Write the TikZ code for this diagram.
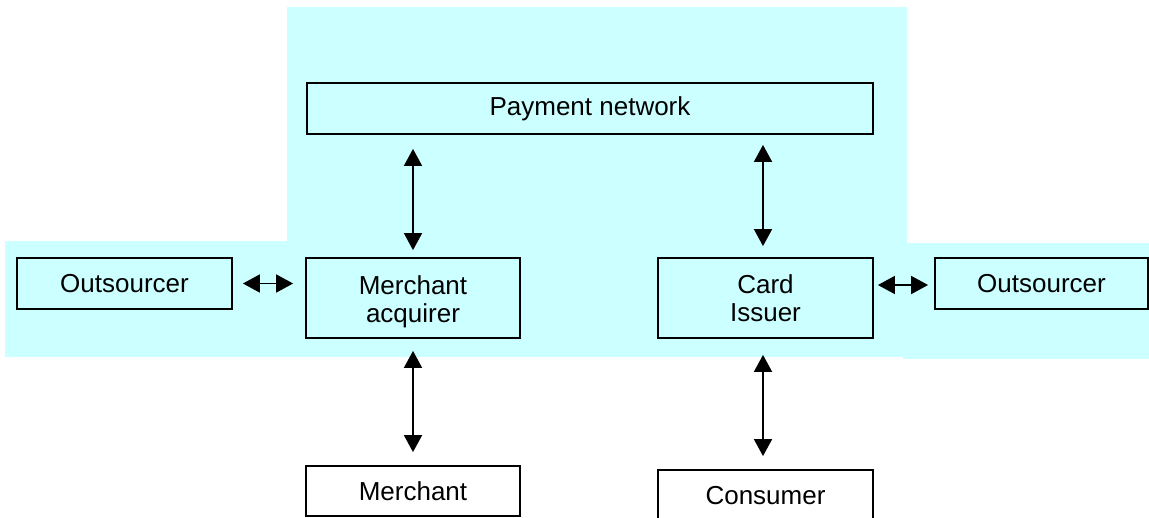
\documentclass[tikz,border=0pt]{standalone}
\usepackage{fontspec}
\setmainfont{Liberation Sans}
\usetikzlibrary{arrows.meta,calc}
\definecolor{bgcyan}{HTML}{CCFFFF}
\begin{document}
\begin{tikzpicture}[x=1pt,y=-1pt,
  box/.style={draw=black,line width=1.8pt,inner sep=0pt,align=center,
    font=\fontsize{26}{28}\selectfont},
  boxtext/.style={inner sep=0pt,align=center,font=\fontsize{26}{28}\selectfont},
  arr/.style={line width=1.8pt,{Triangle[length=17pt,width=18pt]}-{Triangle[length=17pt,width=18pt]}}]
\useasboundingbox (0,0) rectangle (1149,517);
\clip (0,0) rectangle (1149,517);
% background
\fill[bgcyan] (287,7) rectangle (907,357);
\fill[bgcyan] (5,241) rectangle (907,357);
\fill[bgcyan] (903,243) rectangle (1149,359);
% nodes
\node[box,minimum width=566pt,minimum height=51pt] (pn) at (590,108.5) {Payment network};
\node[box,minimum width=215pt,minimum height=51pt] (os1) at (124.5,283.5) {Outsourcer};
\node[box,minimum width=214pt,minimum height=80pt,label={[boxtext,yshift=-4pt]center:Merchant\\acquirer}] (ma) at (413,298) {};
\node[box,minimum width=215pt,minimum height=80pt,label={[boxtext]center:Card\\Issuer}] (ci) at (765.5,298) {};
\node[box,minimum width=213pt,minimum height=51pt] (os2) at (1041.5,283.5) {Outsourcer};
\node[box,fill=white,minimum width=214pt,minimum height=50pt] (me) at (413,491) {Merchant};
\node[box,fill=white,minimum width=215pt,minimum height=52pt] (co) at (765.5,496) {Consumer};
% connectors
\draw[arr,shorten <=14pt,shorten >=7pt] (pn.south -| ma.north) -- (ma.north);
\draw[arr,shorten <=10pt,shorten >=11pt] ([xshift=-2.5pt]pn.south -| ci.north) -- ([xshift=-2.5pt]ci.north);
\draw[arr,shorten <=12pt,shorten >=13pt] (ma.south) -- (me.north);
\draw[arr,shorten <=16pt,shorten >=13pt] ([xshift=-2.5pt]ci.south) -- ([xshift=-2.5pt]co.north);
\draw[arr,shorten <=10pt,shorten >=12pt] (os1.east) -- (os1.east -| ma.west);
\draw[arr,shorten <=4pt,shorten >=6pt] ([yshift=-1.5pt]os2.west -| ci.east) -- ([yshift=-1.5pt]os2.west);
\end{tikzpicture}
\end{document}
